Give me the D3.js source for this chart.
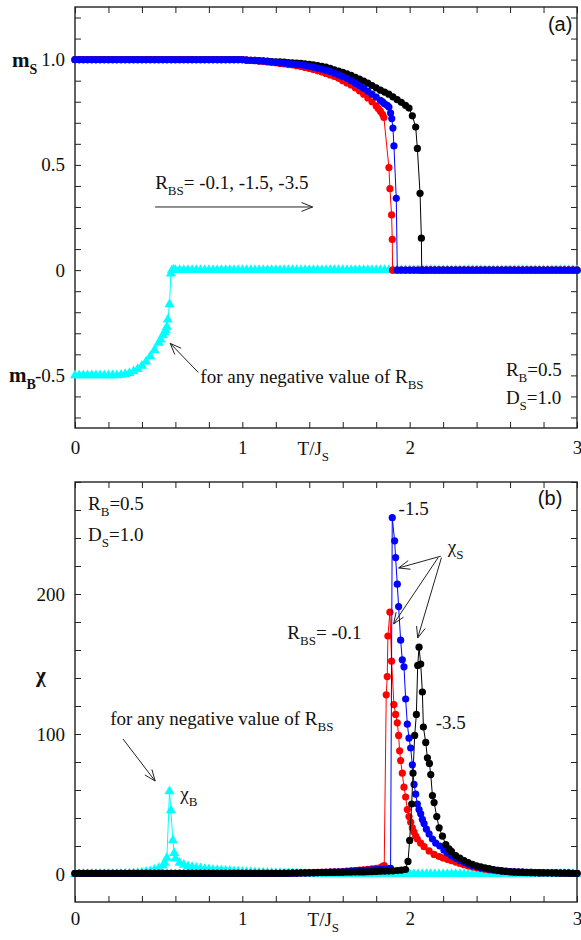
<!DOCTYPE html>
<html>
<head>
<meta charset="utf-8">
<script src="https://cdn.jsdelivr.net/npm/d3@7"></script>
<style>
  body { margin: 0; background: #fff; }
</style>
</head>
<body>
<div id="chart"></div>
<script>
// temperature grid shared by all series (T/J_S)
const tGrid = [0,0.025,0.05,0.075,0.1,0.125,0.15,0.175,0.2,0.225,
  0.25,0.275,0.3,0.325,0.35,0.375,0.4,0.425,0.45,0.475,
  0.5,0.525,0.55,0.575,0.6,0.625,0.65,0.675,0.7,0.725,
  0.75,0.775,0.8,0.825,0.85,0.875,0.9,0.925,0.95,0.975,
  1,1.025,1.05,1.075,1.1,1.125,1.15,1.175,1.2,1.225,
  1.25,1.275,1.3,1.325,1.35,1.375,1.4,1.425,1.45,1.475,
  1.5,1.525,1.55,1.575,1.6,1.625,1.65,1.675,1.7,1.725,
  1.75,1.775,1.8,1.825,1.85,1.875,1.9,1.925,1.95,1.975,
  2,2.025,2.05,2.075,2.1,2.125,2.15,2.175,2.2,2.225,
  2.25,2.275,2.3,2.325,2.35,2.375,2.4,2.425,2.45,2.475,
  2.5,2.525,2.55,2.575,2.6,2.625,2.65,2.675,2.7,2.725,
  2.75,2.775,2.8,2.825,2.85,2.875,2.9,2.925,2.95,2.975,
  3];

// (a) magnetizations, values on tGrid (null = covered by the extra points)
const msBlack = [1,1,1,1,1,1,1,1,1,1, 1,1,1,1,1,1,1,1,1,1, 1,1,1,1,1,1,1,1,1,1, 1,1,1,1,1,1,1,1,1,1,
  1,0.998,0.997,0.996,0.995,0.994,0.993,0.991,0.99,0.989,
  0.988,0.986,0.985,0.984,0.982,0.98,0.978,0.975,0.972,0.968,
  0.964,0.958,0.952,0.946,0.94,0.932,0.925,0.916,0.907,0.898,
  0.888,0.877,0.866,0.855,0.846,0.836,0.823,0.81,0.797,0.783,
  null,null,null,0,0,0,0,0,0,0, 0,0,0,0,0,0,0,0,0,0, 0,0,0,0,0,0,0,0,0,0, 0,0,0,0,0,0,0,0,0,0, 0];
const msBlackExtra = [[1.996,0.77],[2.016,0.733],[2.036,0.68],[2.046,0.578],[2.062,0.365],[2.07,0.152],[2.072,0]];

const msRed = [1,1,1,1,1,1,1,1,1,1, 1,1,1,1,1,1,1,1,1,1, 1,1,1,1,1,1,1,1,1,1, 1,1,1,1,1,1,1,1,1,1,
  1,0.998,0.996,0.995,0.993,0.991,0.989,0.987,0.985,0.982,
  0.98,0.977,0.975,0.971,0.967,0.963,0.958,0.953,0.947,0.941,
  0.934,0.927,0.92,0.911,0.9,0.889,0.88,0.866,0.852,0.836,
  0.818,0.8,0.78,0.755,null,null,0,0,0,0,
  0,0,0,0,0,0,0,0,0,0, 0,0,0,0,0,0,0,0,0,0, 0,0,0,0,0,0,0,0,0,0, 0,0,0,0,0,0,0,0,0,0, 0];
const msRedExtra = [[1.812,0.768],[1.838,0.74],[1.846,0.725],[1.876,0.487],[1.882,0.387],[1.892,0.262],[1.896,0.146],[1.898,0]];

const msBlue = [1,1,1,1,1,1,1,1,1,1, 1,1,1,1,1,1,1,1,1,1, 1,1,1,1,1,1,1,1,1,1, 1,1,1,1,1,1,1,1,1,1,
  1,0.998,0.997,0.996,0.994,0.993,0.991,0.989,0.987,0.985,
  0.983,0.981,0.979,0.977,0.975,0.972,0.968,0.964,0.96,0.955,
  0.95,0.944,0.936,0.928,0.92,0.911,0.9,0.888,0.876,0.864,
  0.85,0.836,0.822,0.807,0.79,null,null,null,0,0,
  0,0,0,0,0,0,0,0,0,0, 0,0,0,0,0,0,0,0,0,0, 0,0,0,0,0,0,0,0,0,0, 0,0,0,0,0,0,0,0,0,0, 0];
const msBlueExtra = [[1.838,0.8],[1.866,0.783],[1.876,0.775],[1.886,0.746],[1.893,0.72],[1.9,0.675],[1.906,0.59],[1.92,0.341],[1.926,0]];

const mB = [-0.5,-0.5,-0.5,-0.5,-0.5,-0.5,-0.5,-0.5,-0.5,-0.5,
  -0.5,-0.497,-0.494,-0.489,-0.481,-0.47,-0.455,-0.435,-0.41,-0.38,
  -0.345,-0.31,null,null,0,0,0,0,0,0,
  0,0,0,0,0,0,0,0,0,0, 0,0,0,0,0,0,0,0,0,0, 0,0,0,0,0,0,0,0,0,0, 0,0,0,0,0,0,0,0,0,0,
  0,0,0,0,0,0,0,0,0,0, 0,0,0,0,0,0,0,0,0,0, 0,0,0,0,0,0,0,0,0,0, 0,0,0,0,0,0,0,0,0,0, 0,0,0,0,0,0,0,0,0,0, 0];
const mBExtra = [[0.512,-0.33],[0.535,-0.295],[0.542,-0.285],[0.549,-0.27],[0.555,-0.235],[0.565,-0.162],[0.573,-0.016],[0.58,0],[0.59,0]];

// (b) susceptibilities
const chiBlack = [0.5,0.5,0.5,0.5,0.5,0.5,0.5,0.5,0.5,0.5, 0.5,0.5,0.5,0.5,0.5,0.5,0.5,0.5,0.5,0.5,
  0.5,0.5,0.5,0.5,0.5,0.5,0.5,0.5,0.5,0.5, 0.5,0.5,0.5,0.5,0.5,0.5,0.5,0.5,0.5,0.5,
  0.5,0.5,0.5,0.5,0.5,0.5,0.5,0.5,0.5,0.5,
  0.6,0.6,0.7,0.7,0.8,0.8,0.9,0.9,1,1,
  1,1.1,1.1,1.2,1.2,1.3,1.3,1.4,1.5,1.5,
  1.6,1.7,1.8,1.9,2,2.1,2.3,2.5,2.8,3.2,
  null,null,null,null,null,null,null,null,null,null,
  16,13.2,11.3,9.6,8.1,6.9,5.9,5.1,4.4,3.8,
  3.2,2.6,2.2,1.8,1.5,1.3,1.2,1.1,1,0.9,
  0.85,0.8,0.75,0.7,0.68,0.65,0.62,0.6,0.58,0.55,
  0.5];
const chiBlackExtra = [[1.99,9],[2,24],[2.012,50],[2.02,72],[2.03,99],[2.04,114],[2.048,149],[2.056,162],
  [2.066,150],[2.076,130],[2.082,105],[2.096,94],[2.106,83],[2.118,79],[2.126,71],[2.136,56],[2.146,51],
  [2.162,41],[2.176,33],[2.196,27],[2.216,21],[2.235,18],[2.246,16.4]];

const chiRed = [0.4,0.4,0.4,0.4,0.4,0.4,0.4,0.4,0.4,0.4, 0.4,0.4,0.4,0.4,0.4,0.4,0.4,0.4,0.4,0.4,
  0.4,0.4,0.4,0.4,0.4,0.4,0.4,0.4,0.4,0.4, 0.4,0.4,0.4,0.4,0.4,0.4,0.4,0.4,0.4,0.4,
  0.4,0.4,0.4,0.4,0.4,0.4,0.4,0.4,0.4,0.4,
  0.5,0.5,0.6,0.6,0.7,0.8,0.9,1,1.1,1.2,
  1.3,1.4,1.5,1.6,1.8,2,2.2,2.4,2.7,3,
  3.3,3.6,4,null,null,null,null,null,null,null,
  null,null,null,null,null,null,null,null,null,10.5,
  9.5,8.5,7.5,6.6,5.8,5,4.4,3.9,3.4,3,
  2.7,2.4,2.1,1.9,1.7,1.5,1.4,1.3,1.2,1.1,
  1,0.95,0.9,0.85,0.8,0.75,0.7,0.65,0.6,0.55,
  0.5];
const chiRedExtra = [[1.825,4.5],[1.838,5.5],[1.848,6],[1.86,128],[1.866,141],[1.87,170],[1.882,187],
  [1.892,152],[1.906,121],[1.916,114],[1.926,108],[1.934,99],[1.94,88],[1.946,81],[1.956,72],[1.966,62],
  [1.976,55],[1.986,46],[1.996,41],[2.006,37],[2.016,33],[2.026,30],[2.036,27],[2.046,25],[2.066,22],
  [2.086,19.5],[2.116,16.5],[2.146,14],[2.176,12.5],[2.2,11.5]];

const chiBlue = [0.4,0.4,0.4,0.4,0.4,0.4,0.4,0.4,0.4,0.4, 0.4,0.4,0.4,0.4,0.4,0.4,0.4,0.4,0.4,0.4,
  0.4,0.4,0.4,0.4,0.4,0.4,0.4,0.4,0.4,0.4, 0.4,0.4,0.4,0.4,0.4,0.4,0.4,0.4,0.4,0.4,
  0.4,0.4,0.4,0.4,0.4,0.4,0.4,0.4,0.4,0.4,
  0.5,0.5,0.6,0.6,0.7,0.7,0.8,0.9,1,1.1,
  1.2,1.3,1.4,1.5,1.6,1.8,2,2.2,2.4,2.6,
  2.8,3,3.2,3.4,3.6,null,null,null,null,null,
  null,null,null,null,null,null,null,null,null,15,
  13,11.2,9.6,8.2,7,6,5.2,4.5,3.9,3.4,
  3,2.6,2.3,2,1.8,1.6,1.45,1.3,1.2,1.1,
  1,0.95,0.9,0.85,0.8,0.75,0.7,0.65,0.6,0.55,
  0.5];
const chiBlueExtra = [[1.88,3.8],[1.886,4],[1.896,254.5],[1.91,238],[1.916,226],[1.926,207],[1.934,191],
  [1.946,167],[1.956,153],[1.966,148],[1.976,125],[1.986,107],[1.996,97],[2.006,90],[2.016,78],[2.026,64],
  [2.036,57],[2.046,50],[2.056,46],[2.066,43],[2.076,39],[2.086,36],[2.1,32],[2.116,28.6],[2.136,25],
  [2.156,22],[2.18,20],[2.205,17]];

const chiB = [0,0,0,0,0,0,0,0,0,0,
  0,0.1,0.2,0.3,0.5,0.7,1,1.5,2,3,
  4,6,null,null,11,8,6.5,5.5,5,4.5,
  4,3.6,3.3,3,2.8,2.6,2.4,2.2,2,1.8,
  1.6,1.4,1.3,1.2,1.1,1,0.9,0.8,0.7,0.6,
  0.5,0.4,0.3,0.3,0.2,0.2,0.1,0.1,0,0,
  0,0,0,0,0,0,0,0,0,0, 0,0,0,0,0,0,0,0,0,0, 0,0,0,0,0,0,0,0,0,0, 0,0,0,0,0,0,0,0,0,0,
  0,0,0,0,0,0,0,0,0,0, 0,0,0,0,0,0,0,0,0,0, 0];
const chiBExtra = [[0.537,8],[0.549,11.6],[0.565,59],[0.573,45.5],[0.585,24],[0.593,15]];

const xTicks = [0,0.2,0.4,0.6,0.8,1,1.2,1.4,1.6,1.8,2,2.2,2.4,2.6,2.8,3];
const xLabels = [0,1,2,3];
const mTicks = [-0.7,-0.6,-0.5,-0.4,-0.3,-0.2,-0.1,0,0.1,0.2,0.3,0.4,0.5,0.6,0.7,0.8,0.9,1,1.1,1.2];
const mLabels = [-0.5,0,0.5,1];
const chiTicks = [0,20,40,60,80,100,120,140,160,180,200,220,240,260,280];
const chiLabels = [0,100,200];

const RED = "#ff0000", BLUE = "#0000ff", BLACK = "#000000", CYAN = "#00ffff";
const SERIF = "'Liberation Serif', 'Times New Roman', serif";
const SANS = "'Liberation Sans', Arial, sans-serif";

const width = 581, height = 940;
const svg = d3.select("#chart").append("svg")
  .attr("width", width).attr("height", height)
  .style("display", "block");

const x = d3.scaleLinear().domain([0, 3]).range([75, 577]);
const yA = d3.scaleLinear().domain([-0.75, 1.25]).range([428, 7]);
const yB = d3.scaleLinear().domain([-20, 280]).range([902, 482]);

function merge(vals, extra) {
  return tGrid.map((t, i) => [t, vals[i]])
    .filter(d => d[1] !== null && d[1] !== undefined)
    .concat(extra)
    .sort((a, b) => a[0] - b[0]);
}

function drawSeries(g, y, pts, color, shape) {
  g.append("path").datum(pts)
    .attr("d", d3.line().x(d => x(d[0])).y(d => y(d[1])))
    .attr("fill", "none").attr("stroke", color).attr("stroke-width", 1);
  if (shape === "triangle") {
    g.selectAll(null).data(pts).join("path")
      .attr("d", d3.symbol(d3.symbolTriangle, 44))
      .attr("transform", d => `translate(${x(d[0])},${y(d[1])})`)
      .attr("fill", color);
  } else {
    g.selectAll(null).data(pts).join("circle")
      .attr("cx", d => x(d[0])).attr("cy", d => y(d[1]))
      .attr("r", 3.6).attr("fill", color);
  }
}

function frame(y, yTicks, yLabels, fmt, bottomPad) {
  const g = svg.append("g");
  const x0 = x.range()[0], x1 = x.range()[1];
  const [yb, yt] = y.range();
  const bottom = g.append("g").attr("transform", `translate(0,${yb})`)
    .call(d3.axisBottom(x).tickValues(xTicks).tickSize(-6).tickPadding(bottomPad)
      .tickFormat(d => xLabels.includes(d) ? String(d) : ""));
  const top = g.append("g").attr("transform", `translate(0,${yt})`)
    .call(d3.axisTop(x).tickValues(xTicks).tickSize(-6).tickFormat(""));
  const left = g.append("g").attr("transform", `translate(${x0},0)`)
    .call(d3.axisLeft(y).tickValues(yTicks).tickSize(-6).tickPadding(10)
      .tickFormat(d => yLabels.some(v => Math.abs(v - d) < 1e-9) ? fmt(d) : ""));
  const right = g.append("g").attr("transform", `translate(${x1},0)`)
    .call(d3.axisRight(y).tickValues(yTicks).tickSize(-6).tickFormat(""));
  [bottom, top, left, right].forEach(a => {
    a.select(".domain").remove();
    a.selectAll(".tick line").attr("stroke", "#222").attr("stroke-width", 1);
    a.attr("font-family", SERIF).attr("font-size", 19);
    a.selectAll("text").attr("fill", "#111");
  });
  g.append("rect").attr("x", x0).attr("y", yt).attr("width", x1 - x0).attr("height", yb - yt)
    .attr("fill", "none").attr("stroke", "#222").attr("stroke-width", 1.4);
  return g;
}

// text with subscripts: parts are strings or [sub] arrays
function rich(x0, y0, parts, size, opts = {}) {
  const t = svg.append("text").attr("x", x0).attr("y", y0)
    .attr("font-family", opts.family || SERIF).attr("font-size", size)
    .attr("font-weight", opts.weight || "normal").attr("fill", "#111");
  let shift = 0;
  parts.forEach(p => {
    const sub = Array.isArray(p);
    const want = sub ? Math.round(size * 0.32) : 0;
    t.append("tspan").attr("dy", want - shift)
      .attr("font-size", sub ? Math.round(size * 0.68) : size)
      .text(sub ? p[0] : p);
    shift = want;
  });
  return t;
}

function arrow(ax, ay, bx, by) {
  const ang = Math.atan2(by - ay, bx - ax), len = 12, spread = 0.38;
  const p = d3.path();
  p.moveTo(ax, ay); p.lineTo(bx, by);
  p.moveTo(bx - len * Math.cos(ang - spread), by - len * Math.sin(ang - spread));
  p.lineTo(bx, by);
  p.lineTo(bx - len * Math.cos(ang + spread), by - len * Math.sin(ang + spread));
  svg.append("path").attr("d", p.toString()).attr("fill", "none")
    .attr("stroke", "#222").attr("stroke-width", 1);
}

// ---------- panel (a)
const fmtM = d => d === 0 ? "0" : d.toFixed(1);
frame(yA, mTicks, mLabels, fmtM, 13);
const gA = svg.append("g");
drawSeries(gA, yA, merge(mB, mBExtra), CYAN, "triangle");
drawSeries(gA, yA, merge(msBlack, msBlackExtra), BLACK);
drawSeries(gA, yA, merge(msRed, msRedExtra), RED);
drawSeries(gA, yA, merge(msBlue, msBlueExtra), BLUE);

rich(12, yA(1) + 7, ["m", ["S"]], 21, { weight: "bold" });
rich(9, yA(-0.5) + 7, ["m", ["B"]], 21, { weight: "bold" });
rich(x(1.33), 455, ["T/J", ["S"]], 19);
rich(x(2.826), yA(1.138), ["(a)"], 20, { family: SANS });
rich(x(0.479), yA(0.386), ["R", ["BS"], "= -0.1, -1.5, -3.5"], 19);
arrow(x(0.479), yA(0.3), x(1.42), yA(0.3));
rich(x(0.749), yA(-0.538), ["for any negative value of R", ["BS"]], 19);
arrow(x(0.737), yA(-0.486), x(0.569), yA(-0.348));
rich(x(2.575), yA(-0.505), ["R", ["B"], "=0.5"], 19);
rich(x(2.575), yA(-0.638), ["D", ["S"], "=1.0"], 19);

// ---------- panel (b)
frame(yB, chiTicks, chiLabels, d => String(d), 10);
const gB = svg.append("g");
drawSeries(gB, yB, merge(chiB, chiBExtra), CYAN, "triangle");
drawSeries(gB, yB, merge(chiRed, chiRedExtra), RED);
drawSeries(gB, yB, merge(chiBlue, chiBlueExtra), BLUE);
drawSeries(gB, yB, merge(chiBlack, chiBlackExtra), BLACK);

rich(36, 682, ["\u03c7"], 21, { weight: "bold" });
rich(x(1.39), 926, ["T/J", ["S"]], 19);
rich(x(2.766), yB(263.6), ["(b)"], 20, { family: SANS });
rich(x(0.078), yB(260), ["R", ["B"], "=0.5"], 19);
rich(x(0.078), yB(238), ["D", ["S"], "=1.0"], 19);
rich(x(1.934), yB(256.4), ["-1.5"], 19);
rich(x(2.228), yB(229), ["\u03c7", ["S"]], 19);
arrow(x(2.186), yB(227), x(1.934), yB(218.6));
arrow(x(2.17), yB(226), x(1.904), yB(178.6));
arrow(x(2.19), yB(226), x(2.048), yB(168.6));
rich(x(1.269), yB(168), ["R", ["BS"], "= -0.1"], 19);
rich(x(2.156), yB(103.6), ["-3.5"], 19);
rich(x(0.21), yB(106.4), ["for any negative value of R", ["BS"]], 19);
arrow(x(0.287), yB(96.4), x(0.479), yB(66.4));
rich(x(0.629), yB(52.9), ["\u03c7", ["B"]], 19);
</script>
</body>
</html>
